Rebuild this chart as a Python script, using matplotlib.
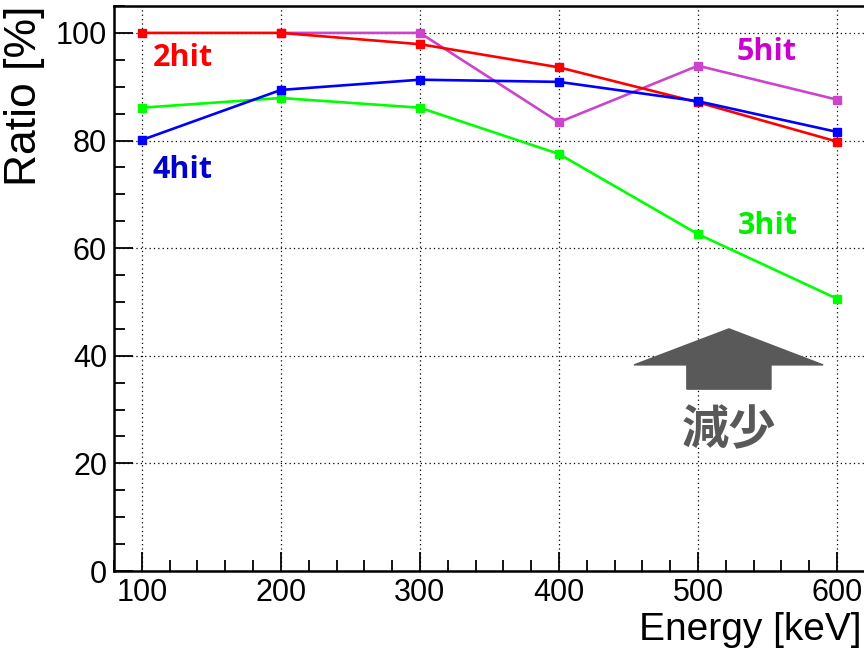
import matplotlib
matplotlib.use("Agg")
import matplotlib.pyplot as plt
from matplotlib.patches import Polygon
from matplotlib.ticker import MultipleLocator

energy = [100, 200, 300, 400, 500, 600]
hit2 = [100.0, 100.0, 97.9, 93.6, 87.1, 79.8]
hit3 = [86.1, 87.9, 86.1, 77.5, 62.6, 50.6]
hit4 = [80.1, 89.4, 91.3, 90.9, 87.3, 81.6]
energy5 = [200, 300, 400, 500, 600]
hit5 = [100.0, 100.0, 83.4, 93.9, 87.6]

plt.rcParams['font.family'] = ['Liberation Sans', 'DejaVu Sans']

fig = plt.figure(figsize=(8.64, 6.59), dpi=100)
ax = fig.add_axes([0.132, 0.1335, 0.877, 0.8574])

ax.plot(energy, hit3, color='#00ff00', lw=1.9, marker='s', ms=6, zorder=3)
ax.plot(energy, hit4, color='#0000ff', lw=1.9, marker='s', ms=6, zorder=4)
ax.plot(energy5, hit5, color='#cc44cc', lw=1.9, marker='s', ms=6, zorder=3)
ax.plot(energy, hit2, color='#ff0000', lw=1.9, marker='s', ms=6, zorder=3)

ax.set_xlim(80, 625)
ax.set_ylim(0, 105)
ax.xaxis.set_major_locator(MultipleLocator(100))
ax.xaxis.set_minor_locator(MultipleLocator(20))
ax.yaxis.set_major_locator(MultipleLocator(20))
ax.yaxis.set_minor_locator(MultipleLocator(5))
ax.tick_params(which='both', direction='in', top=False, right=False,
               labelsize=22, width=1.3, colors='black')
ax.tick_params(which='major', length=14)
ax.tick_params(which='minor', length=8)
ax.tick_params(axis='x', pad=5)
ax.tick_params(axis='y', pad=5)
ax.grid(True, which='major', color='black', linestyle=(0, (1, 2.5)), lw=0.9)
for s in ax.spines.values():
    s.set_linewidth(1.8)
ax.spines['right'].set_visible(False)

ax.set_ylabel('Ratio [%]', fontsize=32, loc='top', labelpad=8)
ax.set_xlabel('Energy [keV]', fontsize=28, labelpad=2)
ax.xaxis.set_label_coords(0.987, -0.072)
ax.xaxis.label.set_ha('right')

lab = dict(fontsize=22, fontweight='bold', family=['Open Sans', 'DejaVu Sans'],
           ha='center', va='center')
ax.text(129.5, 95.4, '2hit', color='#ff0000', **lab)
ax.text(129.5, 74.5, '4hit', color='#0000cc', **lab)
ax.text(549.6, 96.5, '5hit', color='#cc00cc', **lab)
ax.text(550, 64.1, '3hit', color='#00ee00', **lab)

arrow = Polygon([(454, 38.3), (522.3, 45.0), (590, 38.3), (552.5, 38.3),
                 (552.5, 33.8), (492, 33.8), (492, 38.3)],
                closed=True, color='#595959', zorder=5)
ax.add_patch(arrow)
ax.text(522.5, 26.2, '減少', color='#595959', fontsize=34, fontweight='bold',
        family=['Noto Sans CJK JP', 'DejaVu Sans'], ha='center', va='center')

fig.savefig('out.png', dpi=100)
